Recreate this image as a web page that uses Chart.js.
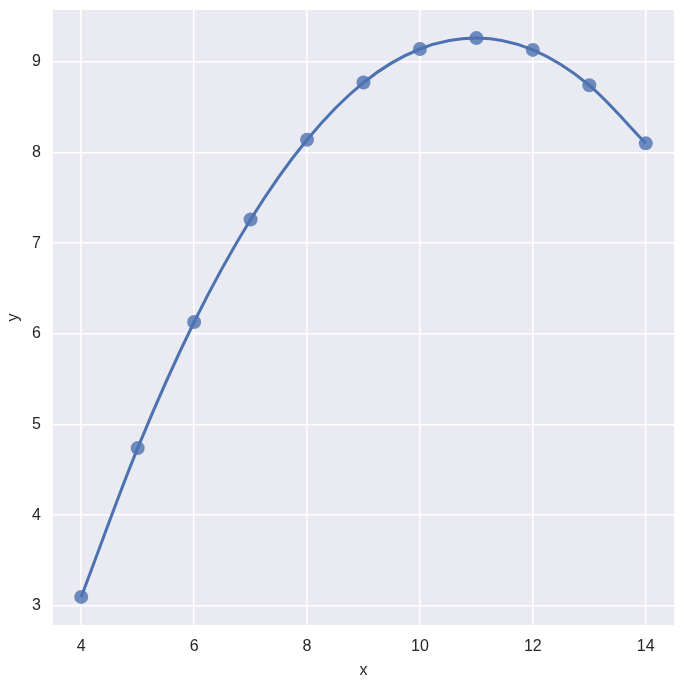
<!DOCTYPE html>
<html>
<head>
<meta charset="utf-8">
<script src="https://cdn.jsdelivr.net/npm/chart.js@4"></script>
<style>
  html, body { margin: 0; padding: 0; background: #fff; }
  #wrap { width: 684px; height: 684px; }
</style>
</head>
<body>
<div id="wrap"><canvas id="chart" width="684" height="684"></canvas></div>
<script>
// Anscombe-like data
const xValues = [4, 5, 6, 7, 8, 9, 10, 11, 12, 13, 14]
const yValues = [3.10, 4.74, 6.13, 7.26, 8.14, 8.77, 9.14, 9.26, 9.13, 8.74, 8.10]
const xTicks = [4, 6, 8, 10, 12, 14]
const yTicks = [3, 4, 5, 6, 7, 8, 9]

const blue = '#4C72B0'
const points = xValues.map((x, i) => ({ x: x, y: yValues[i] }))

// paint the grey seaborn-style panel behind the grid
const panelBg = {
  id: 'panelBg',
  beforeDraw(chart) {
    const { ctx, chartArea: a } = chart
    ctx.save()
    ctx.fillStyle = '#EAEAF2'
    ctx.fillRect(a.left, a.top, a.right - a.left, a.bottom - a.top)
    ctx.restore()
  }
}

const tickFont = { family: 'Liberation Sans, Arial, sans-serif', size: 16 }

new Chart(document.getElementById('chart'), {
  type: 'scatter',
  data: {
    datasets: [
      {
        type: 'line',
        data: points,
        borderColor: blue,
        borderWidth: 3,
        pointRadius: 0,
        fill: false,
        cubicInterpolationMode: 'monotone'
      },
      {
        data: points,
        backgroundColor: 'rgba(76,114,176,0.8)',
        borderColor: 'rgba(76,114,176,0.8)',
        borderWidth: 0,
        pointRadius: 7
      }
    ]
  },
  options: {
    responsive: false,
    animation: false,
    layout: { padding: { top: 10, right: 10, left: 0, bottom: 0 } },
    plugins: { legend: { display: false }, tooltip: { enabled: false } },
    scales: {
      x: {
        type: 'linear',
        min: 3.5,
        max: 14.5,
        afterBuildTicks: s => { s.ticks = xTicks.map(v => ({ value: v })) },
        afterFit: s => { s.height = 59; s.paddingLeft = 0; s.paddingRight = 0 },
        grid: { color: '#ffffff', lineWidth: 1.5, drawTicks: false },
        border: { display: false },
        ticks: { color: '#262626', font: tickFont, padding: 12 },
        title: { display: true, text: 'x', color: '#262626', font: tickFont, padding: { top: 2 } }
      },
      y: {
        type: 'linear',
        min: 2.79,
        max: 9.57,
        afterBuildTicks: s => { s.ticks = yTicks.map(v => ({ value: v })) },
        afterFit: s => { s.width = 53; s.paddingTop = 0; s.paddingBottom = 0 },
        grid: { color: '#ffffff', lineWidth: 1.5, drawTicks: false },
        border: { display: false },
        ticks: { color: '#262626', font: tickFont, padding: 12 },
        title: { display: true, text: 'y', color: '#262626', font: tickFont, padding: { bottom: 4 } }
      }
    }
  },
  plugins: [panelBg]
})
</script>
</body>
</html>
